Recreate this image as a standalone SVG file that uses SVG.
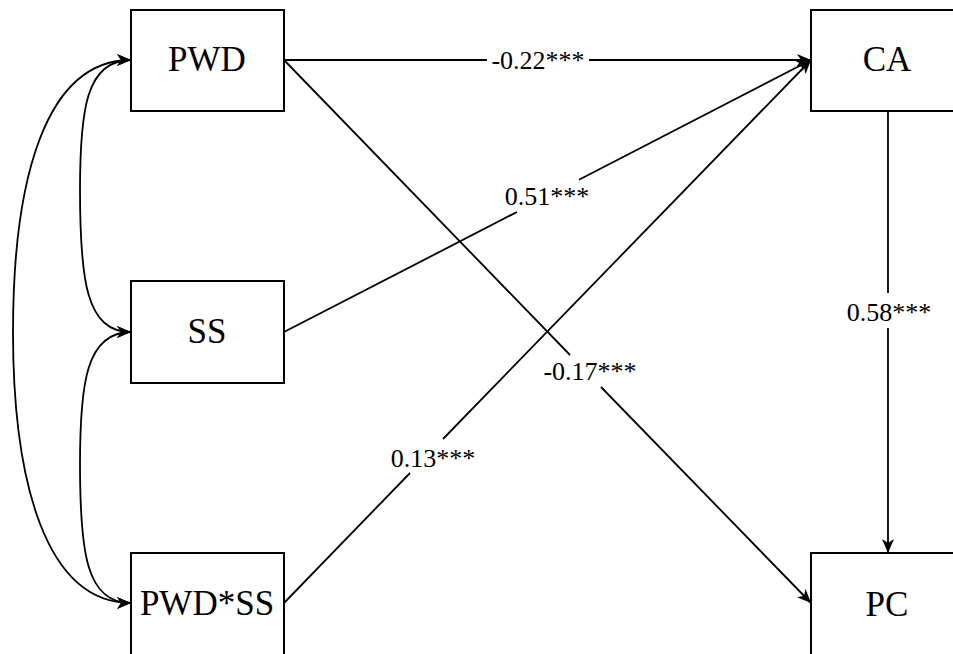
<svg xmlns="http://www.w3.org/2000/svg" width="953" height="654" viewBox="0 0 953 654">
  <style>
    .box { fill: #ffffff; stroke: #000000; stroke-width: 2; }
    .lbl { font-family: "Liberation Serif", "Times New Roman", serif; font-size: 35px; fill: #000000; text-anchor: middle; }
    .coef { font-family: "Liberation Serif", "Times New Roman", serif; font-size: 26px; fill: #000000; text-anchor: middle; }
    .edge { fill: none; stroke: #000000; stroke-width: 1.8; }
    .arr { marker-end: url(#ah); }
    .cov { marker-start: url(#ah); marker-end: url(#ah); }
  </style>
  <defs>
    <marker id="ah" viewBox="0 0 14 12" refX="14" refY="6" markerWidth="14" markerHeight="12" markerUnits="userSpaceOnUse" orient="auto-start-reverse">
      <path d="M0,0 L14,6 L0,12 L4,6 z" fill="#000000"/>
    </marker>
  </defs>
  <rect x="0" y="0" width="953" height="654" fill="#ffffff"/>

  <g id="connectors">
    <path class="edge arr" d="M284,60 L487,60 M589,60 L811,60"/>
    <path class="edge arr" d="M284,332 L517,212 M579,179.7 L811,60"/>
    <path class="edge arr" d="M284,603 L410,473 M443,439 L811,60"/>
    <path class="edge arr" d="M284,60 L570,355 M601,387 L811,603"/>
    <path class="edge arr" d="M888,111 L888,293 M888,328 L888,553"/>
    <path class="edge cov" d="M131,60 C45,60 13,180 13,332 C13,480 45,603 131,603"/>
    <path class="edge cov" d="M131,60 C86,60 80,110 80,190 C80,280 86,332 131,332"/>
    <path class="edge cov" d="M131,332 C86,332 80,384 80,464 C80,552 86,603 131,603"/>
    <text class="coef" x="538" y="69">-0.22***</text>
    <text class="coef" x="547" y="205">0.51***</text>
    <text class="coef" x="590" y="380">-0.17***</text>
    <text class="coef" x="433" y="467">0.13***</text>
    <text class="coef" x="889" y="321">0.58***</text>
  </g>

  <g id="node-pwd">
    <rect class="box" x="131" y="10" width="153" height="101"/>
    <text class="lbl" x="207" y="71">PWD</text>
  </g>
  <g id="node-ss">
    <rect class="box" x="131" y="281" width="153" height="102"/>
    <text class="lbl" x="207" y="343">SS</text>
  </g>
  <g id="node-pwdss">
    <rect class="box" x="131" y="553" width="153" height="110"/>
    <text class="lbl" x="207" y="615">PWD*SS</text>
  </g>
  <g id="node-ca">
    <rect class="box" x="811" y="10" width="153" height="101"/>
    <text class="lbl" x="887" y="71">CA</text>
  </g>
  <g id="node-pc">
    <rect class="box" x="811" y="553" width="153" height="110"/>
    <text class="lbl" x="887" y="616">PC</text>
  </g>
</svg>
